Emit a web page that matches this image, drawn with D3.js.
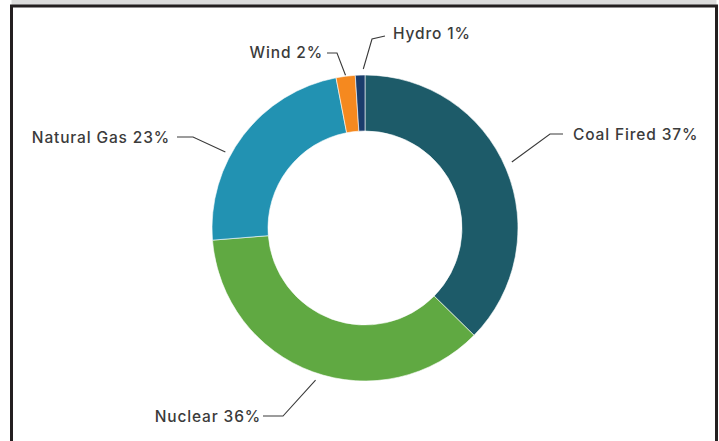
<!DOCTYPE html>
<html><head><meta charset="utf-8">
<script src="https://cdn.jsdelivr.net/npm/d3@7"></script>
<style>html,body{margin:0;padding:0;background:#fff;}svg{display:block;}</style>
</head><body>
<svg id="chart" width="719" height="441"></svg>
<script>
const categories = ["Coal Fired", "Nuclear", "Natural Gas", "Wind", "Hydro"];
const shares = [37, 36, 23, 2, 1];
const labels = ["Coal Fired 37%", "Nuclear 36%", "Natural Gas 23%", "Wind 2%", "Hydro 1%"];
const colors = ["#1d5b69", "#60a942", "#2292b2", "#f5891f", "#1a3d6c"];

// label layout: angle tweak (deg), elbow point, end point, text anchor pos
const labelLayout = [
  {tweak: -1.5, r: 161, elbow: [550, 134], end: [563, 134], text: [573, 134], anchor: "start"},
  {tweak: -2, r: 160, elbow: [283, 416], end: [263, 416], text: [261, 416], anchor: "end"},
  {tweak: -8.7, r: 159, elbow: [193, 137], end: [177, 137], text: [170, 137], anchor: "end"},
  {tweak: 0, r: 154, elbow: [337, 53], end: [327, 53], text: [323, 52], anchor: "end"},
  {tweak: 1.2, r: 159, elbow: [372, 39], end: [385, 36], text: [393, 33], anchor: "start"}
];

const svg = d3.select("#chart");

// frame
svg.append("rect").attr("x", 11.5).attr("y", -10).attr("width", 705).attr("height", 16).attr("fill", "#dcdcdc");
svg.append("rect").attr("x", 11.5).attr("y", 6).attr("width", 705).attr("height", 460)
  .attr("fill", "#fff").attr("stroke", "#231f20").attr("stroke-width", 3);

const cx = 365, cy = 228, rOuter = 153, rInner = 97;
const g = svg.append("g").attr("transform", `translate(${cx},${cy})`);

const pie = d3.pie().sort(null).value(d => d.value);
const data = pie(categories.map((c, i) => ({name: c, value: shares[i], label: labels[i], color: colors[i]})));
const arc = d3.arc().innerRadius(rInner).outerRadius(rOuter);

g.selectAll("path.slice").data(data).join("path")
  .attr("class", "slice")
  .attr("d", arc)
  .attr("fill", d => d.data.color)
  .attr("stroke", "#ffffff").attr("stroke-width", 0.6);

// leader lines and labels
data.forEach((d, i) => {
  const L = labelLayout[i];
  const a = (d.startAngle + d.endAngle) / 2 + L.tweak * Math.PI / 180;
  const sx = cx + L.r * Math.sin(a), sy = cy - L.r * Math.cos(a);
  svg.append("polyline")
    .attr("points", [[sx, sy], L.elbow, L.end].map(p => p.join(",")).join(" "))
    .attr("fill", "none").attr("stroke", "#3a3a3a").attr("stroke-width", 1.1);
  svg.append("text")
    .attr("x", L.text[0]).attr("y", L.text[1])
    .attr("dy", "0.36em")
    .attr("text-anchor", L.anchor)
    .attr("font-family", "Inter, sans-serif")
    .attr("font-size", "15.5px")
    .attr("font-weight", 500)
    .attr("letter-spacing", "0.85px")
    .attr("fill", "#3b3b3b")
    .text(d.data.label);
});
</script>
</body></html>
